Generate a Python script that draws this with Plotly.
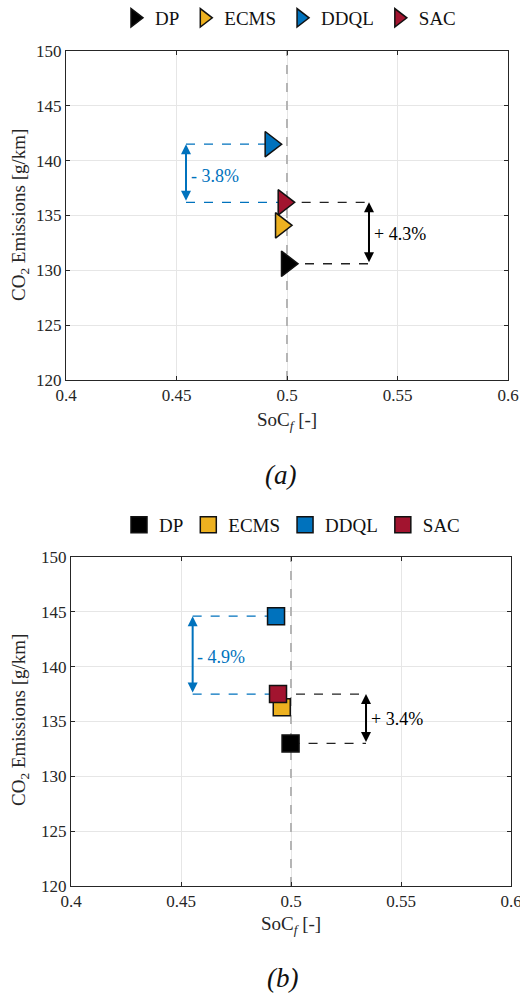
import plotly.graph_objects as go

methods = ["DP", "ECMS", "DDQL", "SAC"]
colors = ["#000000", "#EDB120", "#0072BD", "#A2142F"]

# (a)
soc_a = [0.5000, 0.4973, 0.4926, 0.4985]
co2_a = [130.6, 134.1, 141.5, 136.2]
# (b)
soc_b = [0.4998, 0.4958, 0.4932, 0.4941]
co2_b = [133.0, 136.3, 144.6, 137.5]

arrow_x_a = [0.4543, 0.5371]
arrow_x_b = [0.4553, 0.5341]
label_a = ["- 3.8%", "+ 4.3%"]
label_b = ["- 4.9%", "+ 3.4%"]
label_y_a = [138.6, 133.3]
label_y_b = [140.9, 135.2]

x_ticks = [0.4, 0.45, 0.5, 0.55, 0.6]
x_ticktext = ["0.4", "0.45", "0.5", "0.55", "0.6"]
y_ticks = [120, 125, 130, 135, 140, 145, 150]

FONT = "Liberation Serif, DejaVu Serif, serif"
BLUE = "#0072BD"

fig = go.Figure()

def add_panel(soc, co2, arrow_x, labels, label_y, xr, yr, symbol, size, legend):
    fig.add_trace(go.Scatter(x=[0.5, 0.5], y=[120, 150], mode="lines",
                             line=dict(color="#b5b5b5", width=2, dash="dash"),
                             xaxis=xr, yaxis=yr, showlegend=False, hoverinfo="skip"))
    i_dp, i_ddql, i_sac = 0, 2, 3
    for i in (i_ddql, i_sac):
        fig.add_trace(go.Scatter(x=[arrow_x[0], soc[i]], y=[co2[i], co2[i]], mode="lines",
                                 line=dict(color=BLUE, width=1.3, dash="dash"),
                                 xaxis=xr, yaxis=yr, showlegend=False, hoverinfo="skip"))
    for i in (i_sac, i_dp):
        fig.add_trace(go.Scatter(x=[soc[i], arrow_x[1]], y=[co2[i], co2[i]], mode="lines",
                                 line=dict(color="#222222", width=1.3, dash="dash"),
                                 xaxis=xr, yaxis=yr, showlegend=False, hoverinfo="skip"))
    for i in [0, 1, 2, 3]:
        fig.add_trace(go.Scatter(x=[soc[i]], y=[co2[i]], mode="markers", name=methods[i],
                                 marker=dict(symbol=symbol, size=size, color=colors[i],
                                             line=dict(color="#111111", width=1.5)),
                                 xaxis=xr, yaxis=yr, legend=legend))
    fig.add_annotation(x=arrow_x[0], y=co2[i_ddql], ax=arrow_x[0], ay=co2[i_sac],
                       xref=xr, yref=yr, axref=xr, ayref=yr, text="", showarrow=True,
                       arrowhead=2, arrowside="end+start", arrowsize=1, arrowwidth=2,
                       arrowcolor=BLUE, standoff=0, startstandoff=0)
    fig.add_annotation(x=arrow_x[1], y=co2[i_sac], ax=arrow_x[1], ay=co2[i_dp],
                       xref=xr, yref=yr, axref=xr, ayref=yr, text="", showarrow=True,
                       arrowhead=2, arrowside="end+start", arrowsize=1, arrowwidth=2,
                       arrowcolor="#000000", standoff=0, startstandoff=0)
    fig.add_annotation(x=arrow_x[0] + 0.0012, y=label_y[0], xref=xr, yref=yr, text=labels[0],
                       showarrow=False, xanchor="left", yanchor="middle",
                       font=dict(family=FONT, size=18, color=BLUE))
    fig.add_annotation(x=arrow_x[1] + 0.0014, y=label_y[1], xref=xr, yref=yr, text=labels[1],
                       showarrow=False, xanchor="left", yanchor="middle",
                       font=dict(family=FONT, size=18, color="#000000"))

add_panel(soc_a, co2_a, arrow_x_a, label_a, label_y_a, "x", "y", "triangle-right", 22, "legend")
add_panel(soc_b, co2_b, arrow_x_b, label_b, label_y_b, "x2", "y2", "square", 17, "legend2")

axis_common = dict(showline=True, linecolor="#262626", linewidth=1, mirror="ticks",
                   ticks="inside", ticklen=4, tickcolor="#262626", showgrid=True,
                   gridcolor="#e6e6e6", gridwidth=1, zeroline=False, automargin=False,
                   ticklabeloverflow="allow",
                   tickfont=dict(family=FONT, size=17, color="#262626"))

fig.update_layout(
    width=520, height=1000, margin=dict(l=0, r=0, t=0, b=0, autoexpand=False),
    paper_bgcolor="white", plot_bgcolor="white",
    font=dict(family=FONT, color="#262626"),
    xaxis=dict(domain=[66/520, 508/520], range=[0.4, 0.6], tickvals=x_ticks,
               ticktext=x_ticktext, anchor="y", **axis_common),
    yaxis=dict(domain=[1-380/1000, 1-51/1000], range=[120, 150], tickvals=y_ticks,
               anchor="x", **axis_common),
    xaxis2=dict(domain=[71/520, 511/520], range=[0.4, 0.6], tickvals=x_ticks,
                ticktext=x_ticktext, anchor="y2", **axis_common),
    yaxis2=dict(domain=[1-886/1000, 1-557/1000], range=[120, 150], tickvals=y_ticks,
                anchor="x2", **axis_common),
    legend=dict(orientation="h", x=288/520, y=1-18/1000, xanchor="center", yanchor="middle",
                bgcolor="rgba(0,0,0,0)", font=dict(family=FONT, size=19, color="#111111"),
                itemwidth=30, tracegroupgap=0),
    legend2=dict(orientation="h", x=292/520, y=1-525/1000, xanchor="center", yanchor="middle",
                 bgcolor="rgba(0,0,0,0)", font=dict(family=FONT, size=19, color="#111111"),
                 itemwidth=30, tracegroupgap=0),
)

for (xc, yc, txt) in [(287, 421, "SoC<sub><i>f</i></sub> [-]"), (291, 925, "SoC<sub><i>f</i></sub> [-]")]:
    fig.add_annotation(x=xc/520, y=1-yc/1000, xref="paper", yref="paper", text=txt,
                       showarrow=False, xanchor="center", yanchor="middle",
                       font=dict(family=FONT, size=19, color="#262626"))
for (xc, yc) in [(20, 215), (20, 720)]:
    fig.add_annotation(x=xc/520, y=1-yc/1000, xref="paper", yref="paper",
                       text="CO<sub>2</sub> Emissions [g/km]", textangle=-90,
                       showarrow=False, xanchor="center", yanchor="middle",
                       font=dict(family=FONT, size=19, color="#262626"))
for (xc, yc, txt) in [(280, 475, "<i>(a)</i>"), (282, 978, "<i>(b)</i>")]:
    fig.add_annotation(x=xc/520, y=1-yc/1000, xref="paper", yref="paper", text=txt,
                       showarrow=False, xanchor="center", yanchor="middle",
                       font=dict(family=FONT, size=27, color="#111111"))

fig.write_html("out.html")
